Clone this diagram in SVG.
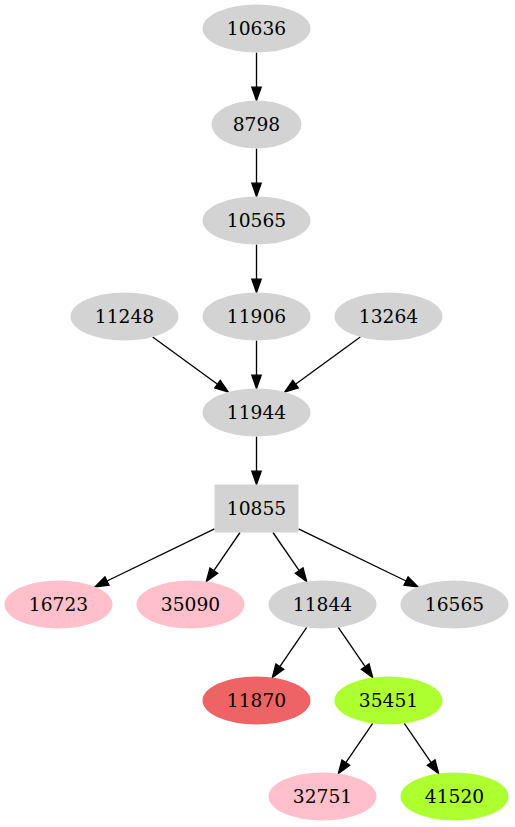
<svg xmlns="http://www.w3.org/2000/svg" width="515" height="827" viewBox="0 0 515 827">
<style>
.g{fill:#d3d3d3}
.p{fill:#ffc0cb}
.y{fill:#adff2f}
.r{fill:#ee6363}
text{font-family:"DejaVu Serif","Liberation Serif",serif;font-size:18.67px;text-anchor:middle;fill:#000}
.e line{stroke:#000;stroke-width:1.33}
.e polygon{fill:#000;stroke:#000;stroke-width:1.33}
</style>
<rect width="515" height="827" fill="#fff"/>
<g class="e" id="edges">
<line x1="256.5" y1="52.5" x2="256.5" y2="87.2"/><polygon points="251.83,87.2 261.17,87.2 256.5,100.5"/>
<line x1="256.5" y1="148.5" x2="256.5" y2="183.2"/><polygon points="251.83,183.2 261.17,183.2 256.5,196.5"/>
<line x1="256.5" y1="244.5" x2="256.5" y2="279.2"/><polygon points="251.83,279.2 261.17,279.2 256.5,292.5"/>
<line x1="256.5" y1="340.5" x2="256.5" y2="375.2"/><polygon points="251.83,375.2 261.17,375.2 256.5,388.5"/>
<line x1="152.7" y1="337" x2="217.5" y2="384.2"/><polygon points="214.75,387.98 220.25,380.42 228.3,392"/>
<line x1="360.3" y1="337" x2="295.5" y2="384.2"/><polygon points="298.25,387.98 292.75,380.42 284.7,392"/>
<line x1="256.5" y1="436.5" x2="256.5" y2="471.2"/><polygon points="251.83,471.2 261.17,471.2 256.5,484.5"/>
<line x1="214.5" y1="528.9" x2="106.97" y2="581"/><polygon points="104.93,576.8 109.01,585.2 95,586.8"/>
<line x1="240" y1="532.5" x2="213.83" y2="570.59"/><polygon points="209.98,567.94 217.68,573.24 206.3,581.55"/>
<line x1="273" y1="532.5" x2="299.17" y2="570.59"/><polygon points="295.32,573.24 303.02,567.94 306.7,581.55"/>
<line x1="298.5" y1="528.9" x2="406.03" y2="581"/><polygon points="403.99,585.2 408.07,576.8 418,586.8"/>
<line x1="306.7" y1="627.45" x2="279.83" y2="666.59"/><polygon points="275.98,663.94 283.68,669.24 272.3,677.55"/>
<line x1="338.3" y1="627.45" x2="365.17" y2="666.59"/><polygon points="361.32,669.24 369.02,663.94 372.7,677.55"/>
<line x1="372.7" y1="723.45" x2="345.83" y2="762.59"/><polygon points="341.98,759.94 349.68,765.24 338.3,773.55"/>
<line x1="404.3" y1="723.45" x2="431.17" y2="762.59"/><polygon points="427.32,765.24 435.02,759.94 438.7,773.55"/>
</g>
<g id="n10636"><ellipse class="g" cx="256.5" cy="28.5" rx="54" ry="24"/><text x="256.5" y="35">10636</text></g>
<g id="n8798"><ellipse class="g" cx="256.5" cy="124.5" rx="45" ry="24"/><text x="256.5" y="131">8798</text></g>
<g id="n10565"><ellipse class="g" cx="256.5" cy="220.5" rx="54" ry="24"/><text x="256.5" y="227">10565</text></g>
<g id="n11248"><ellipse class="g" cx="124.5" cy="316.5" rx="54" ry="24"/><text x="124.5" y="323">11248</text></g>
<g id="n11906"><ellipse class="g" cx="256.5" cy="316.5" rx="54" ry="24"/><text x="256.5" y="323">11906</text></g>
<g id="n13264"><ellipse class="g" cx="388.5" cy="316.5" rx="54" ry="24"/><text x="388.5" y="323">13264</text></g>
<g id="n11944"><ellipse class="g" cx="256.5" cy="412.5" rx="54" ry="24"/><text x="256.5" y="419">11944</text></g>
<g id="n10855"><rect class="g" x="214.5" y="484.5" width="84" height="48"/><text x="256.5" y="515">10855</text></g>
<g id="n16723"><ellipse class="p" cx="58.5" cy="604.5" rx="54" ry="24"/><text x="58.5" y="611">16723</text></g>
<g id="n35090"><ellipse class="p" cx="190.5" cy="604.5" rx="54" ry="24"/><text x="190.5" y="611">35090</text></g>
<g id="n11844"><ellipse class="g" cx="322.5" cy="604.5" rx="54" ry="24"/><text x="322.5" y="611">11844</text></g>
<g id="n16565"><ellipse class="g" cx="454.5" cy="604.5" rx="54" ry="24"/><text x="454.5" y="611">16565</text></g>
<g id="n11870"><ellipse class="r" cx="256.5" cy="700.5" rx="54" ry="24"/><text x="256.5" y="707">11870</text></g>
<g id="n35451"><ellipse class="y" cx="388.5" cy="700.5" rx="54" ry="24"/><text x="388.5" y="707">35451</text></g>
<g id="n32751"><ellipse class="p" cx="322.5" cy="796.5" rx="54" ry="24"/><text x="322.5" y="803">32751</text></g>
<g id="n41520"><ellipse class="y" cx="454.5" cy="796.5" rx="54" ry="24"/><text x="454.5" y="803">41520</text></g>
</svg>
